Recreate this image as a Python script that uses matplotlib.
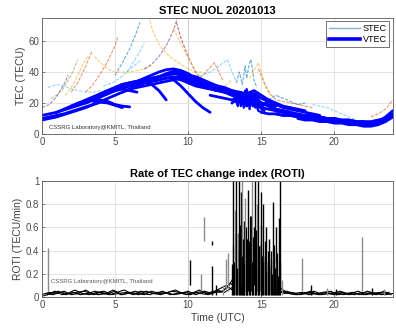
import numpy as np
import matplotlib
matplotlib.use("Agg")
import matplotlib.pyplot as plt
from matplotlib.lines import Line2D

plt.rcParams['font.family'] = ['Liberation Sans', 'DejaVu Sans']

# ---------------- DATA ----------------
title_top = "STEC NUOL 20201013"
title_bot = "Rate of TEC change index (ROTI)"
credit = "CSSRG Laboratory@KMITL, Thailand"
xticks = [0, 5, 10, 15, 20]
yticks_top = [0, 20, 40, 60]
yticks_bot = [0, 0.2, 0.4, 0.6, 0.8, 1]

# VTEC tracks: start time (h), values every 0.5 h
vt1_s, vt1 = 0.0, [10, 11, 12, 13, 14.5, 16, 17.5, 19, 20.5, 20, 18.5, 17]
vt2_s, vt2 = 0.0, [12, 13, 14, 15.5, 17, 18.5, 20, 22, 24, 26, 28, 29.5, 31, 32.5, 33.5, 32, 28, 22]
vt3_s, vt3 = 0.0, [9, 10, 11, 12.5, 14, 15.5, 17, 19, 21, 23, 25, 27, 29, 31, 33, 35, 37, 39, 40.5, 40, 38, 35, 32]
vt4_s, vt4 = 1.0, [14, 16, 18, 20, 22, 24, 26, 28, 30, 32, 33, 34, 36, 38, 40, 41.5, 42, 41, 39, 36, 33, 30, 28]
vt5_s, vt5 = 2.0, [18, 20, 21, 23, 25, 27, 29, 31, 33, 34, 35, 36, 37, 38, 39, 39.5, 38, 37, 35, 33, 31, 29, 27]
vt6_s, vt6 = 3.0, [20, 22, 24, 26, 28, 30, 31, 32, 33, 34, 35, 36, 36.5, 37, 36, 35, 33, 31, 29, 27, 25, 23, 21]
vt7_s, vt7 = 4.0, [26, 28, 30, 32, 33, 34, 35, 36, 37, 38, 39, 38, 37, 35, 33, 31, 29, 27, 25, 23, 21, 19, 18]
vt8_s, vt8 = 5.5, [27, 29, 30, 31, 32, 33, 34, 35, 36, 35, 34, 33, 32, 31, 30, 28, 26, 24, 22, 20, 19, 18]
vt9_s, vt9 = 7.0, [33, 34, 35, 36, 37, 35, 33, 31, 30, 29, 28, 27, 26, 25, 24, 22, 20, 18, 16, 15, 14]
vt10_s, vt10 = 9.0, [36, 35, 34, 33, 32, 31, 30, 29, 28, 27, 26, 28, 25, 22, 20, 18, 17, 16, 15]
vt11_s, vt11 = 10.0, [33, 32, 31, 30, 28, 27, 26, 27, 24, 26, 23, 21, 19, 17, 16, 15, 14, 13, 12]
vt12_s, vt12 = 11.5, [25, 24, 23, 22, 24, 21, 25, 20, 18, 16, 15, 14, 13, 12, 12, 11, 10, 10]
vt13_s, vt13 = 13.0, [20, 24, 18, 26, 17, 22, 15, 14, 13, 12, 12, 11, 11, 10, 10, 9, 9, 8, 8]
vt14_s, vt14 = 14.5, [18, 17, 16, 15, 14, 13, 12, 12, 11, 11, 10, 10, 9, 9, 8, 8, 8, 9, 10, 13]
vt15_s, vt15 = 15.0, [14, 13, 13, 12, 12, 11, 11, 10, 10, 9, 9, 8, 8, 7, 7, 7, 8, 11, 15]
vt16_s, vt16 = 16.0, [13, 12, 12, 11, 10, 10, 9, 9, 8, 8, 7, 7, 6, 6, 7, 9, 12]
vt17_s, vt17 = 17.5, [10, 9, 9, 8, 8, 7, 7, 6, 6, 5, 5, 6, 8, 11]
vt18_s, vt18 = 3.5, [21, 22, 21, 19, 18, 17.5]
vt19_s, vt19 = 4.5, [27, 28, 29, 28, 27]
vt20_s, vt20 = 9.0, [35, 31, 26, 21, 17, 14]

# spiky VTEC near 14 UT
vs1_t = [13.0, 13.2, 13.4, 13.5, 13.6, 13.7, 13.8, 13.9, 14.0, 14.1, 14.2, 14.3, 14.4, 14.6, 14.8, 15.0]
vs1_v = [20, 22, 19, 26, 18, 24, 17, 28, 19, 25, 16, 27, 18, 20, 15, 14]
vs2_t = [13.2, 13.4, 13.6, 13.8, 14.0, 14.2, 14.4, 14.6, 14.8, 15.0, 15.2]
vs2_v = [24, 18, 27, 20, 29, 21, 26, 17, 22, 16, 15]

# STEC tracks (time, value)
s1_t, s1_v = [0.6, 1.0, 1.5, 2.0, 2.45], [23, 25, 30, 38, 48]
s2_t, s2_v = [0.0, 0.5, 1.0, 1.5, 1.8], [17, 19, 24, 32, 38]
s3_t, s3_v = [0.4, 1.0, 1.5, 2.0, 2.5, 3.0, 3.5, 4.0], [30, 32, 31, 29, 28, 27, 27, 28]
s4_t, s4_v = [2.0, 2.5, 3.0, 3.4], [27, 34, 44, 53]
s5_t, s5_v = [1.6, 2.0, 2.4, 2.8, 3.1], [25, 30, 37, 45, 50]
s6_t, s6_v = [3.0, 3.5, 4.0, 4.5, 5.0, 5.2], [27, 32, 39, 47, 57, 63]
s7_t, s7_v = [3.6, 4.0, 4.5, 5.0, 5.5, 6.0, 6.5, 7.0, 7.5], [50, 46, 42, 40, 40, 40, 41, 42, 44]
s8_t, s8_v = [4.2, 4.8, 5.3, 5.8, 6.3, 6.8], [31, 33, 36, 40, 44, 48]
s9_t, s9_v = [5.0, 5.5, 6.0, 6.4, 6.7], [38, 46, 55, 64, 72]
s10_t, s10_v = [5.8, 6.3, 6.8, 7.0], [40, 47, 55, 59]
s11_t, s11_v = [7.3, 7.6, 8.0, 8.5, 9.0, 9.5, 10.0, 10.5, 11.0], [76, 66, 58, 52, 48, 45, 42, 40, 40]
s12_t, s12_v = [7.0, 7.5, 8.0, 8.5, 9.0, 9.3], [42, 45, 50, 57, 67, 76]
s13_t, s13_v = [9.2, 9.5, 10.0, 10.5, 11.0, 11.5, 12.0], [72, 62, 50, 40, 33, 29, 27]
s14_t, s14_v = [9.0, 9.5, 10.0, 10.5, 11.0, 11.5, 12.0, 12.5, 13.0], [68, 58, 49, 41, 35, 31, 30, 31, 35]
s15_t, s15_v = [10.8, 11.2, 11.6, 11.8, 12.1, 12.4], [36, 40, 44, 46, 40, 34]
s16_t, s16_v = [10.5, 11.0, 11.5, 12.0, 12.4, 12.7, 13.0, 13.3], [36, 38, 40, 43, 46, 48, 40, 34]
s17_t, s17_v = [13.3, 13.5, 13.7, 13.9, 14.0, 14.2, 14.3, 14.5, 14.7], [33, 40, 32, 44, 36, 46, 48, 35, 30]
s18_t, s18_v = [14.2, 14.5, 14.8, 15.0, 15.3, 15.6], [36, 41, 46, 40, 30, 25]
s19_t, s19_v = [14.8, 15.2, 15.6, 16.0, 16.5, 17.0, 17.5, 18.0, 18.5], [42, 33, 26, 22, 21, 20, 19, 18, 17]
s20_t, s20_v = [15.5, 16.0, 16.5, 17.0, 17.5, 18.0], [22, 25, 23, 21, 19, 20]
s21_t, s21_v = [18.5, 19.0, 19.5, 20.0, 21.0, 22.0, 22.5], [19, 18, 17, 15, 11, 7, 5]
s22_t, s22_v = [22.5, 23.0, 23.5, 24.0], [11, 13, 16, 22]

# ROTI baseline tracks: start time, values every 0.5 h
rb1_s, rb1 = 0.0, [0.02, 0.04, 0.03, 0.05, 0.02, 0.03, 0.06, 0.02, 0.04, 0.03, 0.05, 0.02, 0.04, 0.03, 0.02, 0.05,
                   0.03, 0.04, 0.02, 0.03, 0.05, 0.02, 0.04, 0.03, 0.06, 0.04, 0.08, 0.15, 0.22, 0.12, 0.18, 0.10,
                   0.06, 0.04, 0.03, 0.02, 0.04, 0.03, 0.02, 0.03, 0.02, 0.04, 0.02, 0.03, 0.02, 0.04, 0.03, 0.02, 0.03]
rb2_s, rb2 = 0.125, [0.01, 0.03, 0.05, 0.02, 0.04, 0.02, 0.03, 0.05, 0.03, 0.02, 0.04, 0.06, 0.03, 0.02, 0.05, 0.03,
                     0.02, 0.04, 0.06, 0.03, 0.02, 0.04, 0.05, 0.03, 0.07, 0.10, 0.05, 0.28, 0.12, 0.30, 0.08, 0.20,
                     0.05, 0.03, 0.04, 0.02, 0.03, 0.05, 0.02, 0.03, 0.04, 0.02, 0.03, 0.05, 0.02, 0.03, 0.04, 0.03]
rb3_s, rb3 = 0.25, [0.03, 0.02, 0.04, 0.03, 0.06, 0.03, 0.02, 0.04, 0.05, 0.02, 0.03, 0.04, 0.02, 0.05, 0.04, 0.03,
                    0.05, 0.02, 0.03, 0.04, 0.03, 0.06, 0.03, 0.05, 0.04, 0.09, 0.20, 0.10, 0.25, 0.14, 0.26, 0.12,
                    0.04, 0.05, 0.03, 0.04, 0.02, 0.03, 0.04, 0.05, 0.02, 0.03, 0.04, 0.02, 0.05, 0.03, 0.02, 0.04]
rb4_s, rb4 = 0.375, [0.02, 0.05, 0.02, 0.03, 0.04, 0.05, 0.03, 0.02, 0.03, 0.06, 0.02, 0.03, 0.05, 0.03, 0.02, 0.04,
                     0.03, 0.05, 0.04, 0.02, 0.04, 0.03, 0.02, 0.04, 0.05, 0.12, 0.06, 0.18, 0.32, 0.10, 0.22, 0.15,
                     0.07, 0.03, 0.02, 0.03, 0.05, 0.02, 0.04, 0.03, 0.05, 0.03, 0.02, 0.04, 0.03, 0.02, 0.05, 0.02]

# ROTI spikes: time, bottom, top, gray flag
sk_t = [0.40, 10.15, 10.90, 11.10, 11.60, 11.62, 11.90, 12.35, 12.60, 12.75, 13.00,
        13.10, 13.20, 13.30, 13.40, 13.50, 13.60, 13.70, 13.80, 13.90, 14.00, 14.10, 14.20,
        14.30, 14.40, 14.50, 14.60, 14.70, 14.80, 14.90, 15.00, 15.10, 15.20, 15.30, 15.40,
        15.50, 15.60, 15.70, 15.80, 15.90, 16.00, 16.10, 16.20, 16.30, 16.40, 17.80, 18.40,
        19.50, 20.10, 21.90, 22.60, 23.40]
sk_lo = [0.05, 0.10, 0.05, 0.48, 0.02, 0.45, 0.02, 0.02, 0.05, 0.05, 0.02,
         0.05, 0.02, 0.10, 0.02, 0.05, 0.02, 0.10, 0.02, 0.05, 0.02, 0.05, 0.02,
         0.05, 0.02, 0.10, 0.02, 0.05, 0.02, 0.05, 0.02, 0.10, 0.02, 0.05, 0.02,
         0.05, 0.02, 0.05, 0.02, 0.05, 0.02, 0.05, 0.02, 0.05, 0.02, 0.05, 0.02,
         0.02, 0.02, 0.05, 0.02, 0.02]
sk_hi = [0.42, 0.32, 0.20, 0.69, 0.27, 0.48, 0.10, 0.10, 0.33, 0.38, 0.28,
         1.00, 0.75, 1.00, 0.55, 1.00, 0.90, 1.00, 0.65, 0.85, 0.50, 0.92, 0.40,
         0.70, 1.00, 0.60, 1.00, 0.80, 1.00, 0.45, 0.90, 0.80, 0.35, 0.60, 0.30,
         0.50, 0.25, 0.40, 0.82, 0.35, 0.60, 0.30, 0.68, 1.00, 0.15, 0.34, 0.10,
         0.08, 0.07, 0.52, 0.08, 0.07]
sk_gray = [1, 0, 1, 1, 0, 0, 0, 1, 1, 1, 0,
           0, 1, 0, 1, 0, 0, 1, 0, 1, 0, 0, 1,
           0, 1, 0, 0, 1, 0, 1, 0, 0, 1, 0, 1,
           0, 1, 0, 0, 1, 0, 1, 0, 0, 1, 1, 0,
           1, 0, 1, 0, 1]

# second, lower set of ROTI spikes in the disturbed interval
sk2_t = [13.05, 13.15, 13.25, 13.35, 13.45, 13.55, 13.65, 13.75, 13.85, 13.95, 14.05, 14.15, 14.25,
         14.35, 14.45, 14.55, 14.65, 14.75, 14.85, 14.95, 15.05, 15.15, 15.25, 15.35, 15.45, 15.55,
         15.65, 15.75, 15.85, 15.95, 16.05, 16.15, 16.25]
sk2_hi = [0.45, 0.30, 0.55, 0.25, 0.40, 0.62, 0.35, 0.50, 0.28, 0.60, 0.33, 0.48, 0.70,
          0.30, 0.52, 0.38, 0.58, 0.26, 0.44, 0.62, 0.35, 0.30, 0.48, 0.22, 0.40, 0.28,
          0.33, 0.20, 0.45, 0.25, 0.38, 0.18, 0.30]

# ---------------- PLOT ----------------
fig = plt.figure(figsize=(3.96, 3.30), dpi=100)
ax1 = fig.add_axes([0.106, 0.594, 0.886, 0.352])
ax2 = fig.add_axes([0.106, 0.100, 0.886, 0.352])

mcol = ['#0072BD', '#D95319', '#EDB120', '#7E2F8E', '#77AC30', '#4DBEEE', '#A2142F']
stec = [(s1_t, s1_v, 4), (s2_t, s2_v, 3), (s3_t, s3_v, 5), (s4_t, s4_v, 1), (s5_t, s5_v, 2),
        (s6_t, s6_v, 1), (s7_t, s7_v, 2), (s8_t, s8_v, 5), (s9_t, s9_v, 0), (s10_t, s10_v, 5),
        (s11_t, s11_v, 2), (s12_t, s12_v, 3), (s13_t, s13_v, 6), (s14_t, s14_v, 2), (s15_t, s15_v, 1),
        (s16_t, s16_v, 5), (s17_t, s17_v, 0), (s18_t, s18_v, 2), (s19_t, s19_v, 1), (s20_t, s20_v, 0),
        (s21_t, s21_v, 5), (s22_t, s22_v, 1)]
for t, v, ci in stec:
    ax1.plot(t, v, color=mcol[ci], lw=0.8, alpha=0.6, dashes=(3, 1.2))

vt = [(vt1_s, vt1), (vt2_s, vt2), (vt3_s, vt3), (vt4_s, vt4), (vt5_s, vt5), (vt6_s, vt6),
      (vt7_s, vt7), (vt8_s, vt8), (vt9_s, vt9), (vt10_s, vt10), (vt11_s, vt11), (vt12_s, vt12),
      (vt13_s, vt13), (vt14_s, vt14), (vt15_s, vt15), (vt16_s, vt16), (vt17_s, vt17),
      (vt18_s, vt18), (vt19_s, vt19), (vt20_s, vt20)]
for s, v in vt:
    t = s + 0.5 * np.arange(len(v))
    ax1.plot(t, v, color='#0000FF', lw=2.0, solid_capstyle='round')
ax1.plot(vs1_t, vs1_v, color='#0000FF', lw=1.6)
ax1.plot(vs2_t, vs2_v, color='#0000FF', lw=1.6)

ax1.axvline(10, color='0.35', lw=0.6, zorder=0)
ax1.set_xlim(0, 24)
ax1.set_ylim(0, 75)
ax1.set_xticks(xticks)
ax1.set_yticks(yticks_top)
ax1.set_ylabel("TEC (TECU)", fontsize=7.5, color='0.25', labelpad=2)
ax1.set_title(title_top, fontsize=8, fontweight='bold', pad=3)
ax1.text(0.5, 3.5, credit, fontsize=4.3, color='0.2')
h = [Line2D([], [], color='#7fb2d5', lw=1.0), Line2D([], [], color='#0000FF', lw=2.6)]
leg = ax1.legend(h, ['STEC', 'VTEC'], loc='upper right', fontsize=6.5, handlelength=3.4,
                 borderpad=0.3, labelspacing=0.2, handletextpad=0.3, fancybox=False,
                 borderaxespad=0.4)
leg.get_frame().set_edgecolor('0.2')
leg.get_frame().set_linewidth(0.6)

for s, v in [(rb1_s, rb1), (rb2_s, rb2), (rb3_s, rb3), (rb4_s, rb4)]:
    t = s + 0.5 * np.arange(len(v))
    ax2.plot(t, v, color='black', lw=0.8)
for t, lo, hi, g in zip(sk_t, sk_lo, sk_hi, sk_gray):
    ax2.vlines(t, lo, hi, color='0.55' if g else 'black', lw=1.0)
ax2.vlines(sk2_t, 0.02, sk2_hi, color='black', lw=0.9)
ax2.axvline(10, color='0.35', lw=0.6, zorder=0)
ax2.set_xlim(0, 24)
ax2.set_ylim(0, 1)
ax2.set_xticks(xticks)
ax2.set_yticks(yticks_bot)
ax2.set_yticklabels(['0', '0.2', '0.4', '0.6', '0.8', '1'])
ax2.set_ylabel("ROTI (TECU/min)", fontsize=7.5, color='0.25', labelpad=2)
ax2.set_xlabel("Time (UTC)", fontsize=7.5, color='0.25', labelpad=2)
ax2.set_title(title_bot, fontsize=8, fontweight='bold', pad=3)
ax2.text(0.6, 0.12, credit, fontsize=4.3, color='0.35')

for ax in (ax1, ax2):
    ax.grid(True, color='0.88', lw=0.6)
    ax.set_axisbelow(True)
    ax.tick_params(direction='in', length=2.5, width=0.5, labelsize=7, colors='0.3', pad=2)
    for sp in ax.spines.values():
        sp.set_color('0.35')
        sp.set_linewidth(0.6)

fig.savefig("out.png", dpi=100)
